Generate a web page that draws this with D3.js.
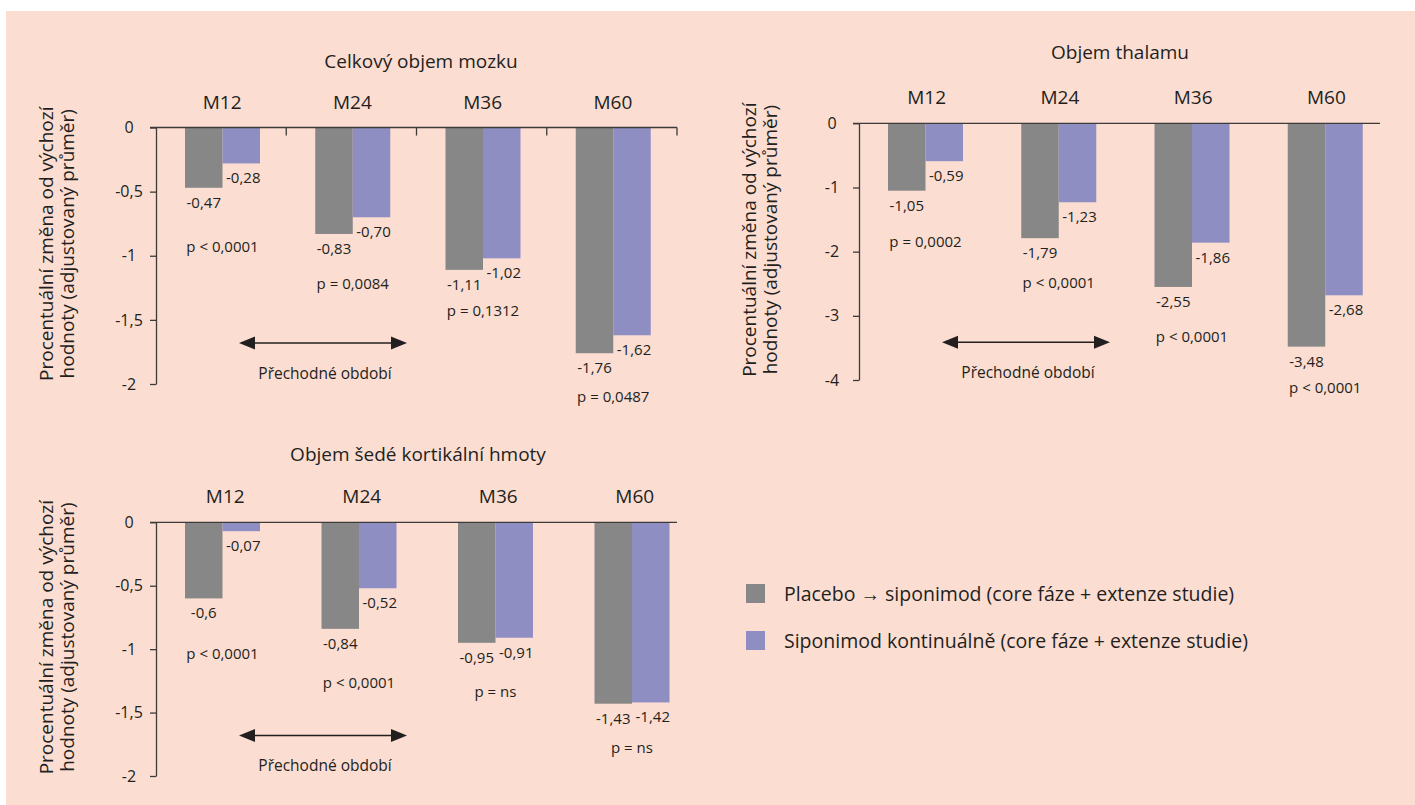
<html>
  <head>
    <meta charset="utf-8">
    <script src="https://cdn.jsdelivr.net/npm/d3@7"></script>
    <style>
      body { margin: 0; background: #ffffff; }
      text { font-family: "Open Sans", "Noto Sans", sans-serif; fill: #231f20; }
    </style>
  </head>
  <body>
    <script>
      // categories and series
      const categories = ["M12", "M24", "M36", "M60"];
      const seriesNames = [
        "Placebo \u2192 siponimod (core fáze + extenze studie)",
        "Siponimod kontinuálně (core fáze + extenze studie)"
      ];
      const seriesColors = ["#878787", "#8e8ec2"];

      // Celkový objem mozku
      const brainPlacebo = ["-0,47", "-0,83", "-1,11", "-1,76"];
      const brainSiponimod = ["-0,28", "-0,70", "-1,02", "-1,62"];
      const brainP = ["p < 0,0001", "p = 0,0084", "p = 0,1312", "p = 0,0487"];
      const brainPAt = [-0.97, -1.26, -1.47, -2.14];
      const brainTicks = [0, -0.5, -1, -1.5, -2];

      // Objem thalamu
      const thalPlacebo = ["-1,05", "-1,79", "-2,55", "-3,48"];
      const thalSiponimod = ["-0,59", "-1,23", "-1,86", "-2,68"];
      const thalP = ["p = 0,0002", "p < 0,0001", "p < 0,0001", "p < 0,0001"];
      const thalPAt = [-1.93, -2.57, -3.41, -4.2];
      const thalTicks = [0, -1, -2, -3, -4];

      // Objem šedé kortikální hmoty
      const greyPlacebo = ["-0,6", "-0,84", "-0,95", "-1,43"];
      const greySiponimod = ["-0,07", "-0,52", "-0,91", "-1,42"];
      const greyP = ["p < 0,0001", "p < 0,0001", "p = ns", "p = ns"];
      const greyPAt = [-1.08, -1.31, -1.38, -1.82];
      const greyTicks = [0, -0.5, -1, -1.5, -2];

      const yLabel = ["Procentuální změna od výchozí", "hodnoty (adjustovaný průměr)"];
      const transitionLabel = "Přechodné období";

      const num = s => +s.replace(",", ".");
      const fmt = d3.formatLocale({decimal: ",", thousands: " ", grouping: [3], currency: ["", ""], minus: "-"}).format("~g");

      const width = 1415, height = 805;
      const svg = d3.select("body").append("svg")
          .attr("width", width)
          .attr("height", height);

      svg.append("rect")
          .attr("x", 6).attr("y", 11)
          .attr("width", width - 6).attr("height", height - 11)
          .attr("fill", "#fbddd2");

      const axisColor = "#3d3a3a";

      function drawChart(cfg) {
        const g = svg.append("g");
        const x0 = d3.scaleBand().domain(categories).range([cfg.left, cfg.bandEnd]);
        const x1 = d3.scaleBand().domain([0, 1]).range([29, 104]);
        const y = d3.scaleLinear().domain([0, cfg.min]).range([cfg.top, cfg.bottom]);

        // title
        g.append("text")
            .attr("x", cfg.titleX).attr("y", cfg.titleY)
            .attr("text-anchor", "middle")
            .style("font-size", "19px")
            .text(cfg.title);

        // category labels
        g.selectAll(".cat").data(categories).join("text")
            .attr("x", d => x0(d) + x0.bandwidth() / 2 + 1)
            .attr("y", cfg.top - 19)
            .attr("text-anchor", "middle")
            .style("font-size", "19px")
            .text(d => d);

        // y axis
        const yAxis = g.append("g")
            .attr("transform", `translate(${cfg.left},0)`)
            .call(d3.axisLeft(y).tickValues(cfg.ticks).tickSize(6).tickSizeOuter(0).tickFormat(fmt));
        yAxis.selectAll("path, line").attr("stroke", axisColor).attr("stroke-width", 1.3);
        yAxis.selectAll("text")
            .attr("x", -27)
            .attr("text-anchor", "middle")
            .style("font-size", "16px")
            .style("font-family", "'Open Sans', sans-serif")
            .attr("fill", "#231f20");

        // y label (two lines)
        const cy = (cfg.top + cfg.bottom) / 2 - 12;
        yLabel.forEach((t, i) => {
          g.append("text")
              .attr("transform", `translate(${cfg.left - 103 + i * 21},${cy}) rotate(-90)`)
              .attr("text-anchor", "middle")
              .style("font-size", "19px")
              .text(t);
        });

        // bars
        const rows = categories.map((c, i) => ({c, i, vals: [cfg.a[i], cfg.b[i]]}));
        const grp = g.selectAll(".grp").data(rows).join("g")
            .attr("transform", d => `translate(${x0(d.c)},0)`);

        grp.selectAll("rect").data(d => d.vals.map((v, s) => ({v, s}))).join("rect")
            .attr("x", d => x1(d.s))
            .attr("width", x1.bandwidth())
            .attr("y", y(0))
            .attr("height", d => y(num(d.v)) - y(0))
            .attr("fill", d => seriesColors[d.s]);

        grp.selectAll(".val").data(d => d.vals.map((v, s) => ({v, s}))).join("text")
            .attr("x", d => x1(d.s) + x1.bandwidth() / 2 + (d.s ? 2 : 0))
            .attr("y", d => y(num(d.v)) + 20)
            .attr("text-anchor", "middle")
            .style("font-size", "15px")
            .text(d => d.v);

        grp.append("text")
            .attr("x", (x1(0) + x1(1) + x1.bandwidth()) / 2)
            .attr("y", d => y(cfg.pAt[d.i]))
            .attr("text-anchor", "middle")
            .style("font-size", "15px")
            .text(d => cfg.p[d.i]);

        // x axis line at zero
        g.append("line")
            .attr("x1", cfg.left - 6).attr("x2", cfg.left + 521)
            .attr("y1", y(0)).attr("y2", y(0))
            .attr("stroke", axisColor).attr("stroke-width", 1.3);
        if (cfg.xTicks) {
          const step = 521 / categories.length;
          g.selectAll(".xt").data(categories).join("line")
              .attr("x1", (d, i) => cfg.left + step * (i + 1))
              .attr("x2", (d, i) => cfg.left + step * (i + 1))
              .attr("y1", y(0)).attr("y2", y(0) + 8)
              .attr("stroke", axisColor).attr("stroke-width", 1.3);
        }

        // transition period arrow
        const ax = x0(categories[0]) + 83, bx = ax + 168;
        const ay = y(cfg.arrowAt);
        g.append("line")
            .attr("x1", ax + 12).attr("x2", bx - 12)
            .attr("y1", ay).attr("y2", ay)
            .attr("stroke", "#231f20").attr("stroke-width", 1.5);
        g.append("path")
            .attr("d", `M${ax},${ay}L${ax + 16},${ay - 6.5}L${ax + 16},${ay + 6.5}Z`)
            .attr("fill", "#231f20");
        g.append("path")
            .attr("d", `M${bx},${ay}L${bx - 16},${ay - 6.5}L${bx - 16},${ay + 6.5}Z`)
            .attr("fill", "#231f20");
        g.append("text")
            .attr("x", (ax + bx) / 2 + 2)
            .attr("y", ay + 36)
            .attr("text-anchor", "middle")
            .style("font-size", "15.5px")
            .text(transitionLabel);
      }

      drawChart({
        title: "Celkový objem mozku", titleX: 421, titleY: 68,
        left: 156, bandEnd: 677, top: 127.5, bottom: 384, min: -2,
        ticks: brainTicks, a: brainPlacebo, b: brainSiponimod,
        p: brainP, pAt: brainPAt, arrowAt: -1.68, xTicks: true
      });
      drawChart({
        title: "Objem thalamu", titleX: 1120, titleY: 59,
        left: 859, bandEnd: 1392, top: 123.3, bottom: 380, min: -4,
        ticks: thalTicks, a: thalPlacebo, b: thalSiponimod,
        p: thalP, pAt: thalPAt, arrowAt: -3.41, xTicks: false
      });
      drawChart({
        title: "Objem šedé kortikální hmoty", titleX: 418, titleY: 461,
        left: 156, bandEnd: 702, top: 522.3, bottom: 776, min: -2,
        ticks: greyTicks, a: greyPlacebo, b: greySiponimod,
        p: greyP, pAt: greyPAt, arrowAt: -1.68, xTicks: false
      });

      // legend
      const legend = svg.append("g").attr("transform", "translate(746,584)");
      const item = legend.selectAll("g").data(seriesNames).join("g")
          .attr("transform", (d, i) => `translate(0,${i * 47})`);
      item.append("rect")
          .attr("width", 19).attr("height", 19)
          .attr("fill", (d, i) => seriesColors[i]);
      item.append("text")
          .attr("x", 38).attr("y", 17)
          .style("font-size", "19.5px")
          .text(d => d);
    </script>
  </body>
</html>
